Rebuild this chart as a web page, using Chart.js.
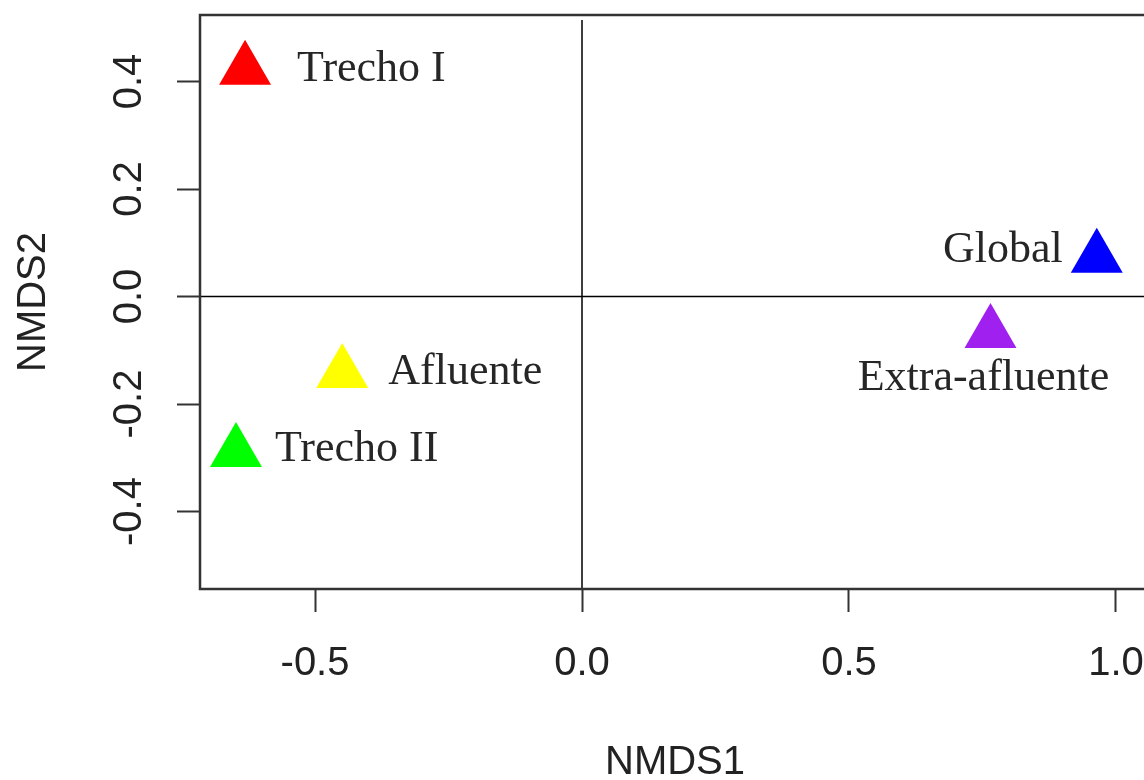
<!DOCTYPE html>
<html>
<head>
<meta charset="utf-8">
<script src="https://cdn.jsdelivr.net/npm/chart.js@4.4.0/dist/chart.umd.min.js"></script>
<style>
  html, body { margin: 0; padding: 0; background: #fff; overflow: hidden; }
  #wrap { width: 1144px; height: 780px; overflow: hidden; }
</style>
</head>
<body>
<div id="wrap"><canvas id="nmds" width="1170" height="780"></canvas></div>
<script>
// pontos do NMDS
const siteNames = ['Trecho I', 'Global', 'Extra-afluente', 'Afluente', 'Trecho II'];
const nmds1 = [-0.631, 0.964, 0.765, -0.449, -0.648];
const nmds2 = [0.422, 0.072, -0.068, -0.142, -0.289];
const siteColors = ['#ff0000', '#0000ff', '#a020f0', '#ffff00', '#00ff00'];

const xTicks = [-0.5, 0.0, 0.5, 1.0];
const yTicks = [-0.4, -0.2, 0.0, 0.2, 0.4];

// onde fica cada rótulo em relação ao triângulo
const labelPlace = [
    { align: 'left',   dx: 52,  dy: 0 },
    { align: 'right',  dx: -34, dy: -7 },
    { align: 'center', dx: -7,  dy: 45 },
    { align: 'left',   dx: 46,  dy: 0 },
    { align: 'left',   dx: 39,  dy: -2 }
];

const axisFont = { family: '"Liberation Sans", Arial, sans-serif', size: 40 };

// caixa do gráfico + linhas do zero
const frameLines = {
    id: 'frameLines',
    beforeDatasetsDraw(chart) {
        const { ctx, chartArea: a, scales } = chart;
        const x0 = scales.x.getPixelForValue(0);
        const y0 = scales.y.getPixelForValue(0);
        ctx.save();
        ctx.strokeStyle = '#000';
        ctx.lineWidth = 1.5;
        ctx.beginPath();
        ctx.moveTo(x0, a.top + 5); ctx.lineTo(x0, a.bottom);
        ctx.moveTo(a.left, y0); ctx.lineTo(a.right, y0);
        ctx.stroke();
        ctx.strokeStyle = '#333';
        ctx.lineWidth = 2.5;
        ctx.strokeRect(a.left, a.top, a.right - a.left, a.bottom - a.top);
        ctx.restore();
    },
    afterDraw(chart) {
        // rótulos do eixo y, girados como no R
        const { ctx, scales } = chart;
        ctx.save();
        ctx.fillStyle = '#222';
        ctx.font = axisFont.size + 'px ' + axisFont.family;
        ctx.textAlign = 'center';
        ctx.textBaseline = 'middle';
        yTicks.forEach(v => {
            const py = scales.y.getPixelForValue(v);
            ctx.save();
            ctx.translate(130, py);
            ctx.rotate(-Math.PI / 2);
            ctx.fillText(v.toFixed(1), 0, 0);
            ctx.restore();
        });
        ctx.restore();
    }
};

// nomes dos pontos
const siteLabels = {
    id: 'siteLabels',
    afterDatasetsDraw(chart) {
        const { ctx } = chart;
        const meta = chart.getDatasetMeta(0);
        ctx.save();
        ctx.fillStyle = '#262626';
        ctx.font = '44px "Liberation Serif", "Times New Roman", serif';
        ctx.textBaseline = 'middle';
        meta.data.forEach((pt, i) => {
            const p = labelPlace[i];
            ctx.textAlign = p.align;
            ctx.fillText(siteNames[i], pt.x + p.dx, pt.y + p.dy);
        });
        ctx.restore();
    }
};

const ctx = document.getElementById('nmds').getContext('2d');
const nmdsChart = new Chart(ctx, {
    type: 'scatter',
    data: {
        datasets: [{
            label: 'NMDS',
            data: nmds1.map((v, i) => ({ x: v, y: nmds2[i] })),
            pointStyle: 'triangle',
            pointRadius: 30,
            pointHoverRadius: 30,
            borderWidth: 0,
            backgroundColor: siteColors,
            borderColor: siteColors
        }]
    },
    options: {
        responsive: false,
        animation: false,
        layout: { autoPadding: false, padding: { top: 15, right: 20, left: 0, bottom: 0 } },
        plugins: {
            legend: { display: false },
            tooltip: { enabled: false }
        },
        scales: {
            x: {
                type: 'linear',
                min: -0.7154,
                max: 1.0637,
                afterFit(scale) {
                    scale.height = 191;
                    scale.paddingLeft = 0;
                    scale.paddingRight = 0;
                },
                afterBuildTicks(scale) { scale.ticks = xTicks.map(v => ({ value: v })); },
                border: { display: false },
                grid: {
                    drawOnChartArea: false,
                    drawTicks: true,
                    tickLength: 23,
                    tickWidth: 2,
                    tickColor: '#333'
                },
                ticks: {
                    color: '#222',
                    font: axisFont,
                    padding: 28,
                    maxRotation: 0,
                    callback: v => v.toFixed(1)
                },
                title: {
                    display: true,
                    text: 'NMDS1',
                    color: '#222',
                    font: { family: axisFont.family, size: 40, lineHeight: 0.8 },
                    padding: { top: 0, bottom: 1 }
                }
            },
            y: {
                type: 'linear',
                min: -0.544,
                max: 0.5237,
                afterFit(scale) {
                    scale.width = 200;
                    scale.paddingTop = 0;
                    scale.paddingBottom = 0;
                },
                afterBuildTicks(scale) { scale.ticks = yTicks.map(v => ({ value: v })); },
                border: { display: false },
                grid: {
                    drawOnChartArea: false,
                    drawTicks: true,
                    tickLength: 23,
                    tickWidth: 2,
                    tickColor: '#333'
                },
                ticks: { display: false },
                title: {
                    display: true,
                    text: 'NMDS2',
                    color: '#222',
                    font: { family: axisFont.family, size: 40 },
                    padding: { top: 10, bottom: 0 }
                }
            }
        }
    },
    plugins: [frameLines, siteLabels]
});
</script>
</body>
</html>
